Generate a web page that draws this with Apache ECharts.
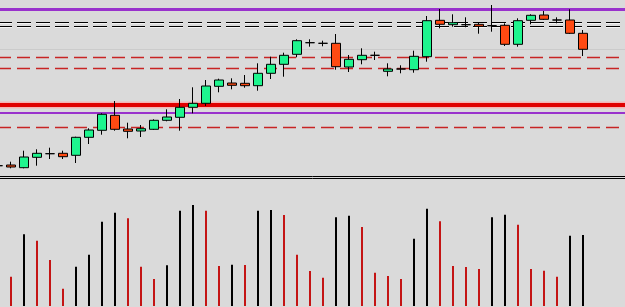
<!DOCTYPE html>
<html>
<head>
<meta charset="utf-8">
<script src="https://cdn.jsdelivr.net/npm/echarts@6/dist/echarts.min.js"></script>
<style>
  html, body { margin: 0; padding: 0; background: #dadada; }
  #chart { width: 625px; height: 307px; }
</style>
</head>
<body>
<div id="chart"></div>
<script>
// bar index, one per candle slot (first one is cut off by the left edge)
const bars = Array.from({ length: 50 }, (_, i) => String(i))

// [open, close, low, high]
const ohlc = [
  [10.3, 10.3, 10.3, 10.3],
  [11, 9, 7.7, 14.3],
  [8.3, 19, 7.7, 25.3],
  [18.7, 22.7, 10.3, 26.7],
  [22.3, 22.3, 17, 28.3],
  [22.7, 19.3, 17, 25.3],
  [20.7, 38.7, 13, 39.3],
  [38.7, 46, 32, 47.7],
  [45.7, 61.7, 41.3, 62.7],
  [60.7, 46.7, 45.3, 75],
  [47, 44.7, 37.7, 53.3],
  [45, 47.3, 39, 51],
  [46.7, 55.7, 46, 56.7],
  [55.7, 59, 54.7, 66.7],
  [58.7, 68.7, 45.3, 77],
  [68.7, 72.7, 62.7, 88.7],
  [72.7, 90, 70, 96],
  [89.7, 96, 83.7, 97.3],
  [93, 90.7, 86.7, 97.7],
  [92.7, 90.3, 88.3, 101],
  [90.3, 102.7, 85.3, 112.7],
  [102.7, 111.7, 97, 119.3],
  [111.7, 120.7, 99.3, 123.3],
  [121.7, 135.3, 118.7, 136.7],
  [133.3, 133.3, 129.3, 136.7],
  [132.7, 132.7, 129.7, 135.3],
  [132.7, 109.3, 106.3, 142],
  [109, 116.7, 104, 121],
  [116.3, 120.7, 111.7, 127.7],
  [120.7, 120.7, 116, 124.3],
  [104.7, 107, 99.7, 112.7],
  [107, 107, 102.7, 110.7],
  [106.3, 119.7, 103.3, 125.3],
  [119.3, 155.3, 114.3, 160],
  [155.7, 151.7, 147.7, 167],
  [151.3, 153.3, 149.3, 161.7],
  [151.3, 151.3, 148.7, 158.7],
  [151.7, 149.7, 142.3, 153],
  [150.3, 150.3, 144.3, 171],
  [150.7, 131.7, 130, 152.7],
  [131.7, 155.3, 129.3, 157.7],
  [155.7, 160.7, 151.7, 161.7],
  [161, 156.7, 156, 165],
  [156, 156, 152.7, 158.7],
  [156, 142.7, 142, 166.7],
  [142.7, 126.7, 120, 146]
]

const volume = ['-', 293, 717, 653, 460, 173, 393, 513, 843, 933, 877, 393, 270, 407, 953, 1010, 953,
  400, 413, 410, 953, 960, 910, 513, 350, 283, 887, 903, 790, 333, 300, 270, 673, 973, 847,
  400, 390, 370, 887, 913, 813, 370, 353, 293, 703, 710]

// horizontal levels on the price panel
const solidLevels = [
  { value: 126.5, color: '#cbcbcb', width: 1 },
  { value: 166.5, color: '#9932cc', width: 3 },
  { value: 71, color: '#f4b4b4', width: 7 },
  { value: 71, color: '#e00000', width: 4 },
  { value: 63, color: '#9932cc', width: 2 }
]
const blackDashLevels = [153.5, 149.5]
const redDashLevels = [118.5, 107.5, 48.5]

const chart = echarts.init(document.getElementById('chart'))

const levelSeries = (value, lineStyle) => ({
  type: 'line',
  xAxisIndex: 0,
  yAxisIndex: 0,
  data: bars.map(() => value),
  symbol: 'none',
  silent: true,
  z: 1,
  lineStyle
})

const levels = [
  ...solidLevels.map(l => levelSeries(l.value, { color: l.color, width: l.width, type: 'solid' })),
  ...blackDashLevels.map(v => levelSeries(v - 1, { color: '#f2f2f2', width: 1, type: [14, 5] })),
  ...blackDashLevels.map(v => levelSeries(v, { color: '#000', width: 1, type: [14, 5] })),
  ...redDashLevels.map(v => levelSeries(v, { color: '#c82424', width: 1.5, type: [13, 6] }))
]

chart.setOption({
  backgroundColor: '#dadada',
  animation: false,
  grid: [
    { left: -8.5, width: 650, top: 0, height: 176, outerBoundsMode: 'none' },
    { left: -8.5, width: 650, top: 178, bottom: 1, outerBoundsMode: 'none' }
  ],
  xAxis: [
    {
      gridIndex: 0, type: 'category', data: bars, position: 'bottom',
      axisLine: { onZero: false, lineStyle: { color: '#000', width: 1 } },
      axisTick: { show: false }, axisLabel: { show: false }, splitLine: { show: false }
    },
    {
      gridIndex: 1, type: 'category', data: bars, position: 'top',
      axisLine: { onZero: false, lineStyle: { color: '#000', width: 1 } },
      axisTick: { show: false }, axisLabel: { show: false }, splitLine: { show: false }
    }
  ],
  yAxis: [
    { gridIndex: 0, min: 0, max: 176, show: false, splitLine: { show: false } },
    { gridIndex: 1, min: 0, max: 1280, show: false, splitLine: { show: false } }
  ],
  series: [
    ...levels,
    {
      type: 'candlestick',
      xAxisIndex: 0,
      yAxisIndex: 0,
      data: ohlc,
      barWidth: 9,
      itemStyle: {
        color: '#1ef58e',
        color0: '#ff4a12',
        borderColor: '#000',
        borderColor0: '#000',
        borderColorDoji: '#000',
        borderWidth: 1
      },
      z: 5
    },
    {
      type: 'bar',
      xAxisIndex: 1,
      yAxisIndex: 1,
      data: volume,
      barWidth: 2,
      itemStyle: {
        color: p => {
          const prev = volume[p.dataIndex - 1]
          return typeof prev === 'number' && p.value > prev ? '#000' : '#c41414'
        }
      }
    }
  ]
})
</script>
</body>
</html>
